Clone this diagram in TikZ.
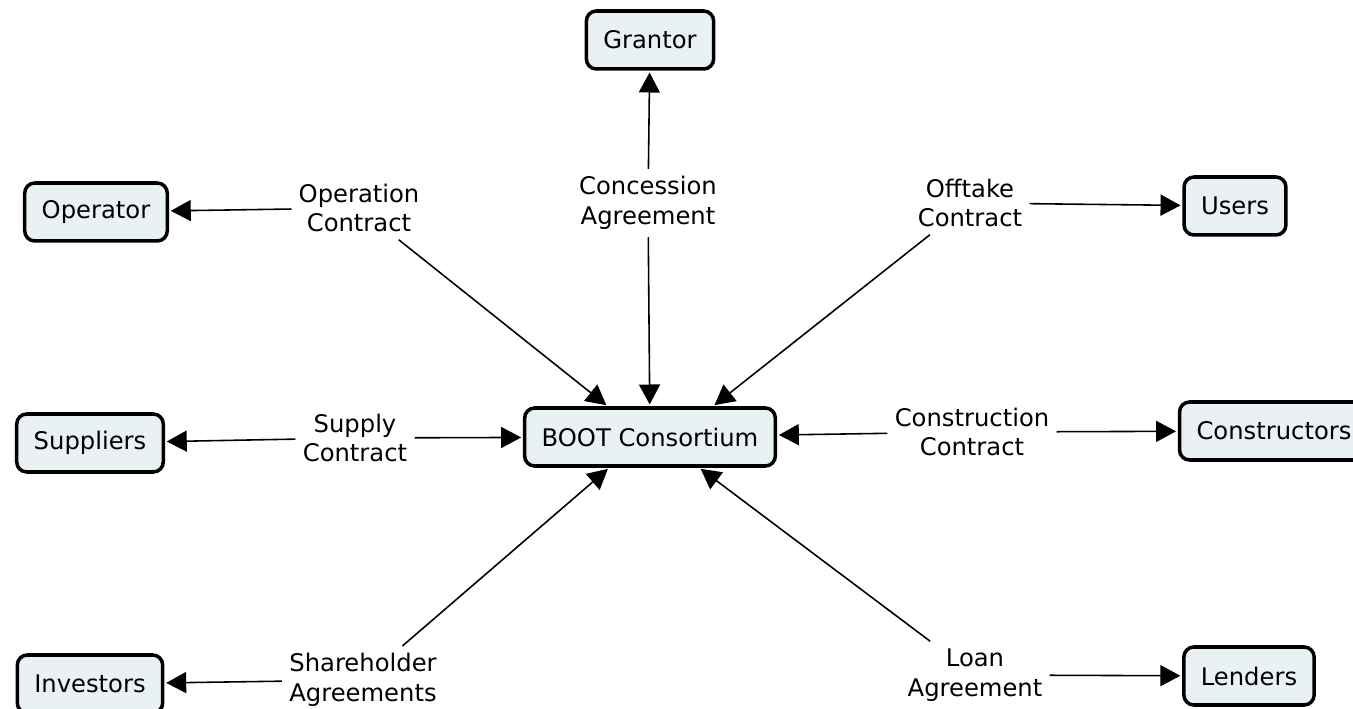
\documentclass[tikz,border=0pt]{standalone}
\usepackage{fontspec}
\setmainfont{DejaVu Sans}
\usetikzlibrary{arrows.meta}
\definecolor{boxfill}{HTML}{EAF1F5}
\begin{document}
\begin{tikzpicture}[x=0.02cm,y=-0.02cm,
  box/.style={draw, line width=2pt, rounded corners=0.2cm, fill=boxfill,
    minimum height=1.16cm, inner xsep=0.34cm, font=\fontsize{13.8}{16}\selectfont},
  lab/.style={align=center, inner sep=4pt, font=\fontsize{13.8}{17}\selectfont},
  conn/.style={line width=0.9pt, -{Triangle[length=0.4cm,width=0.42cm]}, shorten >=1pt}]
\useasboundingbox (0,0) rectangle (1353,709);
\clip (0,0) rectangle (1353,709);
% boxes
\node[box] (grantor) at (650,40) {Grantor};
\node[box] (operator) at (96,212) {Operator};
\node[box] (users) at (1235,206) {Users};
\node[box] (suppliers) at (90,443) {Suppliers};
\node[box] (boot) at (650,437) {BOOT Consortium};
\node[box] (constructors) at (1274,431) {Constructors};
\node[box] (investors) at (90,684) {Investors};
\node[box] (lenders) at (1249,676) {Lenders};
% labels
\node[lab] (op) at (359,208) {Operation\\Contract};
\node[lab] (conc) at (648,203) {Concession\\Agreement};
\node[lab] (off) at (970,203) {Offtake\\Contract};
\node[lab] (sup) at (355,438) {Supply\\Contract};
\node[lab] (cons) at (972,432) {Construction\\Contract};
\node[lab] (share) at (363,680) {Shareholder\\Agreements};
\node[lab] (loan) at (975,675) {Loan\\Agreement};
% connectors
\draw[conn] (op) -- (operator);
\draw[conn] (op) -- (boot.144);
\draw[conn] (conc) -- (grantor);
\draw[conn] (conc) -- (boot);
\draw[conn] (off) -- (users);
\draw[conn] (off) -- (boot.26);
\draw[conn] (sup) -- (suppliers);
\draw[conn] (sup) -- (boot);
\draw[conn] (cons) -- (boot);
\draw[conn] (cons) -- (constructors);
\draw[conn] (share) -- (boot.217);
\draw[conn] (share) -- (investors);
\draw[conn] (loan) -- (boot.328);
\draw[conn] (loan) -- (lenders);
\end{tikzpicture}
\end{document}
